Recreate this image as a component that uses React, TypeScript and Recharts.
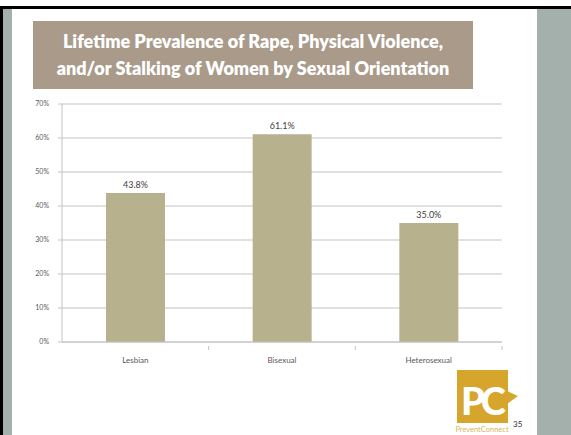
import { Bar, BarChart, CartesianGrid, LabelList, XAxis, YAxis } from "recharts";

const categories = ["Lesbian", "Bisexual", "Heterosexual"];
const prevalence = [43.8, 61.1, 35.0];
const yTicks = [0, 10, 20, 30, 40, 50, 60, 70];

const rows = categories.map((name, i) => ({ name, value: prevalence[i] }));

const W = 571;
const H = 435;
const M = { top: 104, right: 69, bottom: 73, left: 32 };
const Y_AXIS_W = 30;
const plotW = W - M.left - M.right - Y_AXIS_W;
const halfBand = plotW / categories.length / 2;

const grid = "#c4c4c4";
const textGray = "#595959";
const font = "Lato, 'Liberation Sans', sans-serif";

function CategoryTick(props: any) {
  const { x, y, payload } = props;
  return (
    <g>
      <line x1={x + halfBand} y1={y - 4} x2={x + halfBand} y2={y} stroke={grid} strokeWidth={1} />
      <text x={x} y={y + 13} textAnchor="middle" fontSize={8} fill={textGray} fontFamily={font}>
        {payload.value}
      </text>
    </g>
  );
}

export default function App() {
  return (
    <div style={{ position: "absolute", left: 0, top: 0, width: W, height: H, background: "#fff", overflow: "hidden" }}>
      {/* slide frame */}
      <div style={{ position: "absolute", left: 0, top: 6, width: W, height: 3, background: "#000" }} />
      <div style={{ position: "absolute", left: 0, top: 6, width: 3, height: H, background: "#000" }} />
      <div style={{ position: "absolute", left: 3, top: 9, width: 9, height: H, background: "#a3b0ac" }} />
      <div style={{ position: "absolute", left: 537, top: 9, width: 34, height: H, background: "#a3b0ac" }} />

      {/* title box */}
      <div
        style={{
          position: "absolute",
          left: 33,
          top: 21,
          width: 440,
          height: 68,
          background: "#a99a8a",
          color: "#fff",
          fontFamily: "Lato, sans-serif",
          fontWeight: 800,
          fontSize: 18,
          lineHeight: "27px",
          textAlign: "center",
          display: "flex",
          flexDirection: "column",
          justifyContent: "center",
        }}
      >
        <div>Lifetime Prevalence of Rape, Physical Violence,</div>
        <div>and/or Stalking of Women by Sexual Orientation</div>
      </div>

      <div style={{ position: "absolute", left: 0, top: 0 }}>
        <BarChart width={W} height={H} data={rows} margin={M} barCategoryGap="30%">
          <CartesianGrid horizontal vertical={false} stroke={grid} strokeWidth={1.2} />
          <XAxis
            dataKey="name"
            height={20}
            axisLine={{ stroke: grid }}
            tickLine={false}
            tick={<CategoryTick />}
            interval={0}
          />
          <YAxis
            width={Y_AXIS_W}
            domain={[0, 70]}
            ticks={yTicks}
            tickFormatter={(v) => `${v}%`}
            axisLine={{ stroke: grid }}
            tickLine={{ stroke: grid }}
            tickSize={4}
            tickMargin={9}
            tick={{ fontSize: 7, fill: textGray, fontFamily: font }}
            interval={0}
          />
          <Bar dataKey="value" fill="#b8b18e" isAnimationActive={false}>
            <LabelList
              dataKey="value"
              position="top"
              offset={5}
              formatter={(v: any) => `${Number(v).toFixed(1)}%`}
              style={{ fontSize: 9, fill: "#404040", fontFamily: font }}
            />
          </Bar>
        </BarChart>
      </div>

      {/* PreventConnect logo */}
      <svg style={{ position: "absolute", left: 0, top: 0 }} width={W} height={H}>
        <rect x={457} y={370} width={51} height={53} fill="#d5a62b" />
        <polygon points="507,391 518,396 507,404" fill="#d5a62b" />
        <text x={461} y={415} fontSize={38} fontWeight={900} fill="#fff" fontFamily="Lato, sans-serif" letterSpacing={-4}>
          PC
        </text>
        <text x={482} y={432} textAnchor="middle" fontSize={7.5} fill="#d9b55a" fontFamily="Lato, sans-serif">
          PreventConnect
        </text>
        <text x={513} y={427} fontSize={8} fill="#333" fontFamily="Lato, sans-serif">
          35
        </text>
      </svg>
    </div>
  );
}
